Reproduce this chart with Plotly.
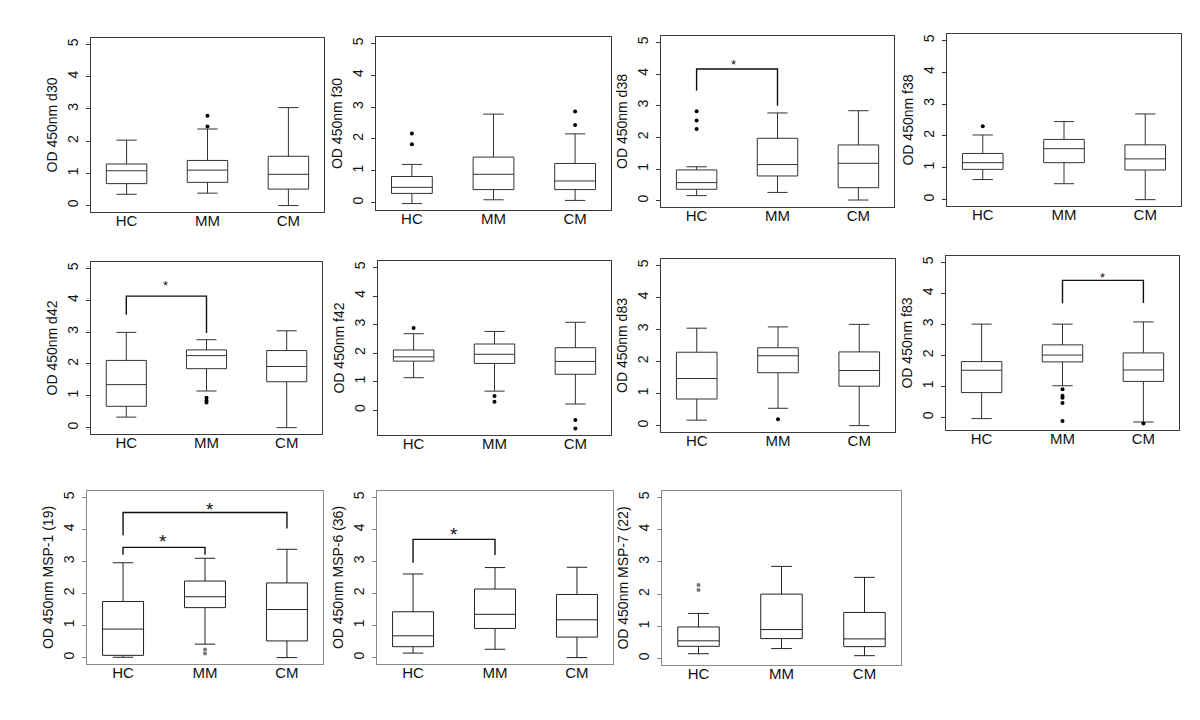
import plotly.graph_objects as go

groups = ["HC", "MM", "CM"]
positions = [1, 2, 3]

titles = ["OD 450nm d30", "OD 450nm f30", "OD 450nm d38", "OD 450nm f38",
          "OD 450nm d42", "OD 450nm f42", "OD 450nm d83", "OD 450nm f83",
          "OD 450nm MSP-1 (19)", "OD 450nm MSP-6 (36)", "OD 450nm MSP-7 (22)"]

# box statistics per panel: lists in group order HC, MM, CM
lower = [[0.35, 0.385, 0.0], [-0.03, 0.09, 0.07], [0.16, 0.26, 0.02], [0.63, 0.50, 0.0],
         [0.33, 1.15, 0.0], [1.14, 0.67, 0.22], [0.17, 0.54, 0.0], [-0.04, 1.02, -0.15],
         [0.01, 0.42, 0.0], [0.14, 0.26, 0.0], [0.15, 0.31, 0.09]]
q1 = [[0.68, 0.72, 0.51], [0.29, 0.41, 0.41], [0.36, 0.78, 0.41], [0.95, 1.16, 0.93],
      [0.67, 1.85, 1.44], [1.72, 1.64, 1.26], [0.83, 1.65, 1.23], [0.80, 1.79, 1.16],
      [0.07, 1.56, 0.52], [0.34, 0.91, 0.64], [0.38, 0.62, 0.37]]
median = [[1.08, 1.10, 0.97], [0.48, 0.89, 0.68], [0.57, 1.14, 1.18], [1.16, 1.60, 1.28],
          [1.35, 2.26, 1.92], [1.87, 1.96, 1.71], [1.47, 2.18, 1.72], [1.52, 2.01, 1.53],
          [0.89, 1.90, 1.50], [0.68, 1.35, 1.18], [0.55, 0.90, 0.61]]
q3 = [[1.29, 1.40, 1.53], [0.82, 1.43, 1.23], [0.97, 1.97, 1.76], [1.45, 1.89, 1.72],
      [2.11, 2.44, 2.42], [2.11, 2.32, 2.19], [2.29, 2.43, 2.30], [1.80, 2.34, 2.08],
      [1.75, 2.39, 2.33], [1.43, 2.14, 1.97], [0.98, 2.00, 1.43]]
upper = [[2.03, 2.375, 3.04], [1.20, 2.78, 2.16], [1.07, 2.77, 2.84], [2.03, 2.45, 2.69],
         [2.99, 2.76, 3.04], [2.68, 2.76, 3.08], [3.04, 3.08, 3.16], [3.01, 3.01, 3.08],
         [2.96, 3.10, 3.38], [2.61, 2.81, 2.82], [1.40, 2.86, 2.52]]
outliers = [
    [[], [2.79, 2.45], []],
    [[2.17, 1.83], [], [2.86, 2.44]],
    [[2.82, 2.53, 2.26], [], []],
    [[2.30], [], []],
    [[], [0.94, 0.85, 0.79], []],
    [[2.88], [0.50, 0.30], [-0.34, -0.64]],
    [[], [0.20], []],
    [[], [0.91, 0.70, 0.63, 0.46, -0.12], [-0.20]],
    [[], [0.25, 0.13], []],
    [[], [], []],
    [[2.28, 2.13], [], []],
]

# significance brackets: panel index, group a, group b, leg bottom a, bar height, leg bottom b, star x, star y
sig_panel = [2, 4, 7, 8, 8, 9]
sig_a = [1, 1, 2, 1, 1, 1]
sig_b = [2, 2, 3, 3, 2, 2]
sig_ya = [3.47, 3.54, 3.68, 3.82, 3.21, 2.96]
sig_top = [4.16, 4.13, 4.42, 4.53, 3.44, 3.69]
sig_yb = [3.0, 2.97, 3.69, 4.03, 3.21, 3.2]
sig_sx = [1.45, 1.49, 2.5, 2.06, 1.49, 1.5]
sig_sy = [4.40, 4.57, 4.62, 4.74, 3.74, 3.96]

# plot-area pixel boxes (left, right, top, bottom)
boxes_px = [(83, 316, 30, 204), (368, 603, 29, 202), (653, 886, 28, 199), (939, 1173, 26, 198),
            (83, 314, 254, 426), (370, 603, 253, 427), (653, 887, 251, 424), (938, 1171, 248, 422),
            (79, 315, 483, 656), (369, 605, 483, 656), (654, 893, 483, 657)]

W, H = 1200, 720
FONT = "Liberation Sans, Arial, sans-serif"
fig = go.Figure()
layout = {}

for i in range(len(titles)):
    n = i + 1
    xa = "x" if n == 1 else f"x{n}"
    ya = "y" if n == 1 else f"y{n}"
    row3 = i >= 8
    frame = "#8a8a8a" if row3 else "#3a3a3a"
    lc = "#222222" if row3 else "#333333"
    ptc = "#777777" if row3 else "#000000"

    fig.add_trace(go.Box(
        x=positions, q1=q1[i], median=median[i], q3=q3[i],
        lowerfence=lower[i], upperfence=upper[i],
        width=0.5, whiskerwidth=0.5, boxpoints=False,
        line=dict(color=lc, width=1), fillcolor="rgba(255,255,255,0)",
        xaxis=xa, yaxis=ya, showlegend=False, hoverinfo="skip"))

    ox, oy = [], []
    for g in range(3):
        for v in outliers[i][g]:
            ox.append(positions[g])
            oy.append(v)
    if ox:
        fig.add_trace(go.Scatter(x=ox, y=oy, mode="markers",
                                 marker=dict(color=ptc, size=4),
                                 xaxis=xa, yaxis=ya, showlegend=False, hoverinfo="skip"))

    allv = [v for g in range(3) for v in outliers[i][g]] + lower[i]
    lo = min(min(allv), 0)
    pad = 0.04 * (5 - lo)
    l, r, t, b = boxes_px[i]
    layout["xaxis" if n == 1 else f"xaxis{n}"] = dict(
        domain=[l / W, r / W], anchor=ya, range=[0.56, 3.44],
        tickvals=positions, ticktext=groups, ticks="", showgrid=False, zeroline=False,
        showline=True, mirror=True, linecolor=frame, linewidth=1, ticklabelstandoff=-5,
        tickfont=dict(family=FONT, size=15, color="#111"))
    layout["yaxis" if n == 1 else f"yaxis{n}"] = dict(
        domain=[1 - b / H, 1 - t / H], anchor=xa, range=[lo - pad, 5 + pad],
        tickvals=[0, 1, 2, 3, 4, 5], tickangle=-90, ticks="outside", ticklen=4,
        tickcolor=frame, showgrid=False, zeroline=False, ticklabelstandoff=2,
        showline=True, mirror=True, linecolor=frame, linewidth=1,
        tickfont=dict(family=FONT, size=14, color="#111"),
        title=dict(text=titles[i], font=dict(family=FONT, size=14, color="#111"), standoff=4))

annotations = []
for k in range(len(sig_panel)):
    n = sig_panel[k] + 1
    xa = "x" if n == 1 else f"x{n}"
    ya = "y" if n == 1 else f"y{n}"
    a, bb = sig_a[k], sig_b[k]
    fig.add_trace(go.Scatter(
        x=[a, a, bb, bb], y=[sig_ya[k], sig_top[k], sig_top[k], sig_yb[k]],
        mode="lines", line=dict(color="#111", width=1.4),
        xaxis=xa, yaxis=ya, showlegend=False, hoverinfo="skip"))
    big = sig_panel[k] >= 8
    annotations.append(dict(
        x=sig_sx[k], y=sig_sy[k], xref=xa, yref=ya, text="*", showarrow=False,
        yanchor="middle", yshift=-4 if big else -3,
        font=dict(family=FONT, size=19 if big else 13, color="#111")))

fig.update_layout(**layout)
fig.update_layout(
    width=W, height=H, margin=dict(l=0, r=0, t=0, b=0),
    paper_bgcolor="white", plot_bgcolor="white",
    annotations=annotations, showlegend=False)

fig.write_html("out.html")
